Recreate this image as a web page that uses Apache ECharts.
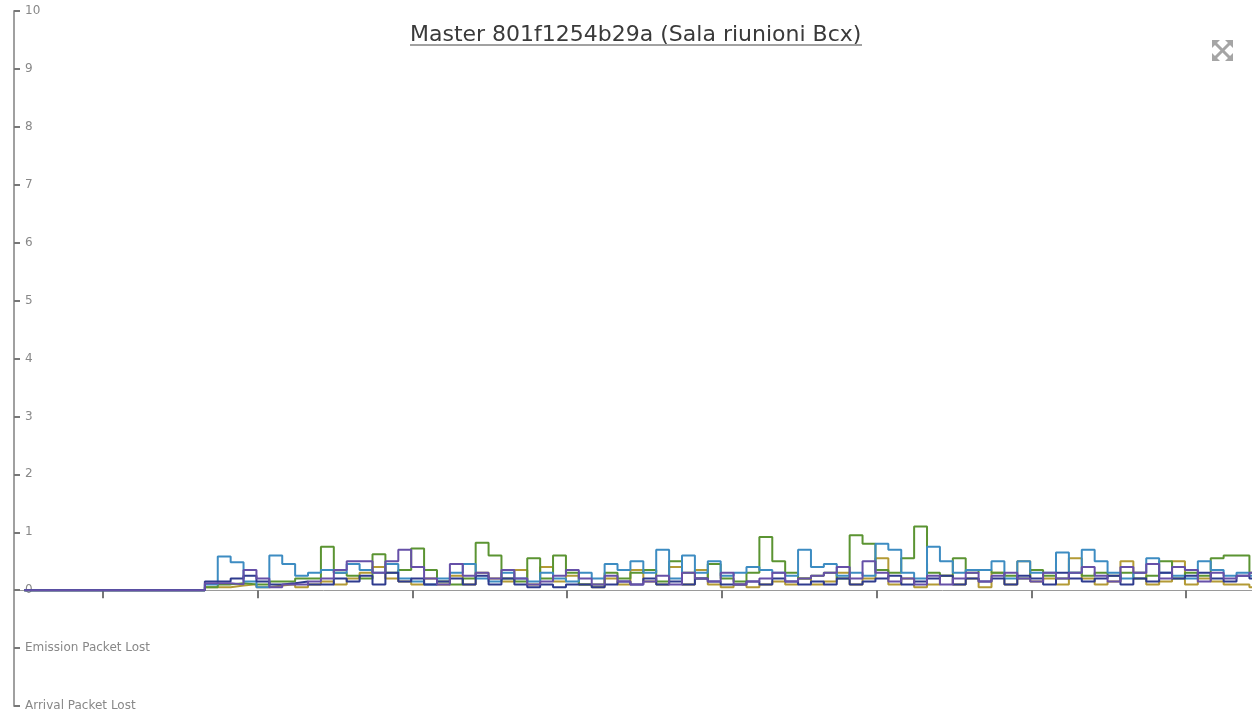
<!DOCTYPE html>
<html>
<head>
<meta charset="utf-8">
<script src="https://cdn.jsdelivr.net/npm/echarts@6/dist/echarts.min.js"></script>
<style>
html,body{margin:0;padding:0;background:#fff;}
#chart{width:1252px;height:712px;}
</style>
</head>
<body>
<div id="chart"></div>
<script>
// ---- data ----
const titleText = 'Master 801f1254b29a (Sala riunioni Bcx)';
const yTickLabels = { '-1': 'Emission Packet Lost', '-2': 'Arrival Packet Lost' };
const xTickValues = [6.1, 18.1, 30.1, 42.1, 54.1, 66.1, 78.1, 90.1];

const seriesBlue = [0,0,0,0,0,0,0,0,0,0,0,0,0,0,
  0.1,0.58,0.48,0.15,0.05,0.6,0.45,0.25,0.3,0.35,0.3,0.45,0.35,0.3,0.45,0.2,
  0.15,0.1,0.2,0.3,0.45,0.2,0.15,0.3,0.2,0.15,0.3,0.2,0.15,0.3,0.2,0.45,
  0.35,0.5,0.3,0.7,0.2,0.6,0.3,0.5,0.25,0.3,0.4,0.35,0.3,0.25,0.7,0.4,
  0.45,0.25,0.3,0.25,0.8,0.7,0.3,0.2,0.75,0.5,0.3,0.35,0.35,0.5,0.2,0.5,
  0.3,0.3,0.65,0.3,0.7,0.5,0.3,0.2,0.3,0.55,0.3,0.25,0.2,0.5,0.35,0.25,0.3,0.25];
const seriesGreen = [0,0,0,0,0,0,0,0,0,0,0,0,0,0,
  0.05,0.1,0.12,0.1,0.1,0.15,0.15,0.2,0.2,0.75,0.3,0.25,0.2,0.62,0.3,0.35,
  0.72,0.35,0.15,0.1,0.2,0.82,0.6,0.2,0.15,0.55,0.2,0.6,0.3,0.1,0.1,0.3,
  0.2,0.3,0.35,0.15,0.5,0.3,0.2,0.45,0.2,0.15,0.3,0.92,0.5,0.3,0.2,0.25,
  0.3,0.2,0.95,0.8,0.35,0.3,0.55,1.1,0.3,0.25,0.55,0.3,0.35,0.3,0.25,0.2,
  0.35,0.25,0.2,0.3,0.25,0.3,0.25,0.3,0.2,0.25,0.5,0.2,0.3,0.25,0.55,0.6,0.6,0.3];
const seriesOlive = [0,0,0,0,0,0,0,0,0,0,0,0,0,0,
  0.05,0.05,0.08,0.1,0.05,0.08,0.1,0.05,0.1,0.15,0.1,0.2,0.3,0.4,0.2,0.15,
  0.1,0.2,0.1,0.25,0.1,0.3,0.2,0.15,0.35,0.1,0.4,0.15,0.25,0.1,0.05,0.2,
  0.1,0.35,0.15,0.1,0.4,0.1,0.35,0.1,0.05,0.1,0.05,0.1,0.15,0.1,0.2,0.1,
  0.15,0.3,0.1,0.2,0.55,0.1,0.2,0.05,0.1,0.25,0.1,0.2,0.05,0.3,0.1,0.5,
  0.15,0.2,0.1,0.55,0.2,0.1,0.15,0.5,0.3,0.1,0.15,0.5,0.1,0.2,0.15,0.1,0.1,0.05];
const seriesPurple = [0,0,0,0,0,0,0,0,0,0,0,0,0,0,
  0.12,0.12,0.1,0.35,0.2,0.05,0.1,0.1,0.15,0.2,0.35,0.5,0.5,0.3,0.5,0.7,
  0.4,0.2,0.1,0.45,0.25,0.3,0.2,0.35,0.2,0.1,0.15,0.25,0.35,0.2,0.1,0.25,
  0.15,0.1,0.15,0.25,0.1,0.3,0.2,0.15,0.3,0.1,0.15,0.2,0.3,0.15,0.2,0.25,
  0.3,0.4,0.2,0.5,0.3,0.15,0.2,0.1,0.25,0.1,0.2,0.3,0.15,0.25,0.3,0.2,
  0.15,0.3,0.2,0.3,0.4,0.25,0.15,0.4,0.3,0.45,0.2,0.4,0.35,0.15,0.3,0.2,0.25,0.3];
const seriesNavy = [0,0,0,0,0,0,0,0,0,0,0,0,0,0,
  0.15,0.15,0.2,0.25,0.15,0.1,0.12,0.15,0.1,0.1,0.2,0.15,0.25,0.1,0.3,0.15,
  0.2,0.1,0.15,0.2,0.1,0.25,0.1,0.2,0.1,0.05,0.1,0.05,0.1,0.1,0.05,0.1,
  0.15,0.1,0.2,0.1,0.15,0.1,0.2,0.15,0.1,0.1,0.15,0.1,0.2,0.15,0.1,0.15,
  0.1,0.2,0.1,0.15,0.2,0.25,0.1,0.15,0.2,0.25,0.1,0.2,0.15,0.2,0.1,0.25,
  0.2,0.1,0.3,0.2,0.15,0.2,0.25,0.1,0.2,0.15,0.3,0.2,0.25,0.3,0.2,0.15,0.25,0.2];

// ---- chart ----
function toPairs(arr){
  const d = arr.map((v,i)=>[i,v]);
  d.push([arr.length, arr[arr.length-1]]);
  return d;
}
const chart = echarts.init(document.getElementById('chart'), null, {renderer:'canvas'});
const defs = [
  {name:'Olive', data:seriesOlive, color:'#b39a35'},
  {name:'Green', data:seriesGreen, color:'#5b9432'},
  {name:'Blue', data:seriesBlue, color:'#3d8cc2'},
  {name:'Navy', data:seriesNavy, color:'#2e3b8e'},
  {name:'Purple', data:seriesPurple, color:'#6650a8'}
];
chart.setOption({
  animation:false,
  backgroundColor:'#fff',
  title:{
    text:titleText, left:405, top:19,
    textStyle:{fontFamily:'DejaVu Sans', fontSize:22, fontWeight:'normal', color:'#3a3a3a'}
  },
  grid:{left:14, right:0, top:11, bottom:6, containLabel:false},
  xAxis:{
    type:'value', min:-0.8, max:95.2,
    axisLine:{onZero:true, lineStyle:{color:'#9a9a9a', width:1}},
    axisTick:{show:true, customValues:xTickValues, length:8, lineStyle:{color:'#777', width:2}},
    axisLabel:{show:false},
    splitLine:{show:false}
  },
  yAxis:{
    type:'value', min:-2, max:10, interval:1,
    axisLine:{show:true, onZero:false, lineStyle:{color:'#a0a0a0', width:2}},
    axisTick:{show:true, inside:true, length:6, lineStyle:{color:'#777', width:2}},
    axisLabel:{inside:true, margin:11, color:'#888', fontSize:12, fontFamily:'DejaVu Sans',
      formatter:function(v){ return yTickLabels[String(v)] !== undefined ? yTickLabels[String(v)] : String(v); }},
    splitLine:{show:false}
  },
  series: defs.map(s=>({
    name:s.name, type:'line', step:'end', symbol:'none',
    data:toPairs(s.data),
    lineStyle:{color:s.color, width:2},
    itemStyle:{color:s.color}
  })),
  graphic:[
    {type:'line', shape:{x1:410, y1:45, x2:862, y2:45}, style:{stroke:'#444', lineWidth:1}},
    {type:'group', left:1212, top:40, children:[
      {type:'line', shape:{x1:3, y1:3, x2:18, y2:18}, style:{stroke:'#a5a5a5', lineWidth:3}},
      {type:'line', shape:{x1:18, y1:3, x2:3, y2:18}, style:{stroke:'#a5a5a5', lineWidth:3}},
      {type:'polygon', shape:{points:[[0,0],[8,0],[0,8]]}, style:{fill:'#a5a5a5'}},
      {type:'polygon', shape:{points:[[21,0],[13,0],[21,8]]}, style:{fill:'#a5a5a5'}},
      {type:'polygon', shape:{points:[[0,21],[8,21],[0,13]]}, style:{fill:'#a5a5a5'}},
      {type:'polygon', shape:{points:[[21,21],[13,21],[21,13]]}, style:{fill:'#a5a5a5'}}
    ]}
  ]
});
</script>
</body>
</html>
